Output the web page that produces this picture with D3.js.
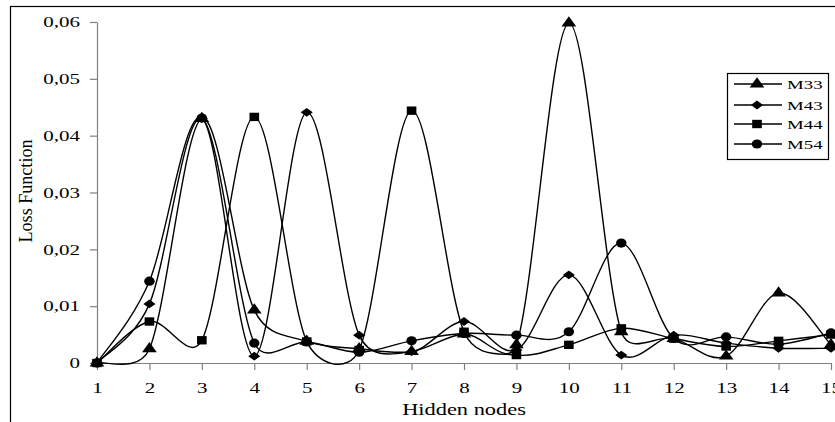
<!DOCTYPE html>
<html>
<head>
<meta charset="utf-8">
<script src="https://cdn.jsdelivr.net/npm/d3@7"></script>
<style>
  body { margin: 0; background: #fff; }
  text { font-family: "Liberation Serif", "Times New Roman", serif; fill: #000; }
</style>
</head>
<body>
<div id="chart"></div>
<script>
// data
var nodes = [1, 2, 3, 4, 5, 6, 7, 8, 9, 10, 11, 12, 13, 14, 15];
var m33 = [0, 0.0025, 0.043, 0.0093, 0.0038, 0.0025, 0.002, 0.0051, 0.0032, 0.0598, 0.0055, 0.0043, 0.0012, 0.0123, 0.0032];
var m43 = [0, 0.0104, 0.043, 0.0012, 0.0441, 0.0049, 0.002, 0.0073, 0.0023, 0.0155, 0.0014, 0.0049, 0.0035, 0.0026, 0.0026];
var m44 = [0, 0.0073, 0.004, 0.0433, 0.0038, 0.0023, 0.0444, 0.0055, 0.0014, 0.0032, 0.0061, 0.0043, 0.0029, 0.0039, 0.005];
var m54 = [0, 0.0144, 0.0431, 0.0035, 0.0037, 0.0019, 0.0039, 0.0052, 0.0049, 0.0055, 0.0211, 0.0043, 0.0046, 0.0033, 0.0053];
var seriesNames = ["M33", "M43", "M44", "M54"];
var yTicks = [0, 0.01, 0.02, 0.03, 0.04, 0.05, 0.06];

var series = [
	{ name: seriesNames[0], values: m33, symbol: d3.symbolTriangle, size: 60, sx: 1.25, sy: 1 },
	{ name: seriesNames[1], values: m43, symbol: d3.symbolDiamond2, size: 55, sx: 1.3, sy: 0.95 },
	{ name: seriesNames[2], values: m44, symbol: d3.symbolSquare, size: 70, sx: 1.15, sy: 1 },
	{ name: seriesNames[3], values: m54, symbol: d3.symbolCircle, size: 65, sx: 1.15, sy: 1 }
];

var width = 835, height = 422;
var stretch = 1.4; // text in the picture is widened horizontally

// Excel-like smoothed line: bezier with 1/6 tangents, each handle
// clamped to half of its segment so flat runs do not overshoot much
function excelCurve(context) {
	var pts;
	function handle(a, b, seg) {
		var vx = (b[0] - a[0]) / 6, vy = (b[1] - a[1]) / 6;
		var len = Math.hypot(vx, vy);
		if (len > seg / 2 && len > 0) {
			vx *= seg / 2 / len;
			vy *= seg / 2 / len;
		}
		return [vx, vy];
	}
	return {
		areaStart: function () {},
		areaEnd: function () {},
		lineStart: function () { pts = []; },
		point: function (x, y) { pts.push([+x, +y]); },
		lineEnd: function () {
			var n = pts.length;
			if (!n) return;
			context.moveTo(pts[0][0], pts[0][1]);
			for (var i = 0; i < n - 1; i++) {
				var p0 = pts[i - 1] || pts[i], p1 = pts[i], p2 = pts[i + 1], p3 = pts[i + 2] || pts[i + 1];
				var seg = Math.hypot(p2[0] - p1[0], p2[1] - p1[1]);
				var v1 = handle(p0, p2, seg), v2 = handle(p1, p3, seg);
				context.bezierCurveTo(p1[0] + v1[0], p1[1] + v1[1], p2[0] - v2[0], p2[1] - v2[1], p2[0], p2[1]);
			}
		}
	};
}

var svg = d3.select("#chart").append("svg")
	.attr("width", width)
	.attr("height", height);

// outer frame (runs past the right and bottom edges)
svg.append("rect")
	.attr("x", 10.5).attr("y", 6.5)
	.attr("width", 900).attr("height", 500)
	.attr("fill", "none").attr("stroke", "#000").attr("stroke-width", 1.2);

var x = d3.scaleLinear().domain([1, 15]).range([97, 831]);
var y = d3.scaleLinear().domain([0, 0.06]).range([363, 22]);

function fmt(d) {
	return d === 0 ? "0" : d3.format(".2f")(d).replace(".", ",");
}

// y axis
var gy = svg.append("g")
	.attr("transform", "translate(" + x(1) + ",0)")
	.call(d3.axisLeft(y).tickValues(yTicks).tickFormat(fmt).tickSize(7).tickSizeOuter(0));
gy.select(".domain").attr("stroke", "#808080").attr("stroke-width", 1.2);
gy.selectAll(".tick line").attr("stroke", "#808080").attr("stroke-width", 1.2);
gy.selectAll(".tick text")
	.attr("x", -17 / stretch)
	.attr("transform", "scale(" + stretch + ",1)")
	.style("font-size", "15px")
	.style("font-family", "'Liberation Serif', 'Times New Roman', serif");

// x axis
var gx = svg.append("g")
	.attr("transform", "translate(0," + y(0) + ")")
	.call(d3.axisBottom(x).tickValues(nodes).tickFormat(d3.format("d")).tickSize(7).tickSizeOuter(0));
gx.select(".domain").attr("stroke", "#808080").attr("stroke-width", 1.2);
gx.selectAll(".tick line").attr("stroke", "#808080").attr("stroke-width", 1.2);
gx.selectAll(".tick text")
	.attr("x", 0).attr("y", 30).attr("dy", 0)
	.attr("transform", "scale(" + stretch + ",1)")
	.style("font-size", "15px")
	.style("font-family", "'Liberation Serif', 'Times New Roman', serif");

// axis titles
svg.append("text")
	.attr("transform", "translate(464,415) scale(" + stretch + ",1)")
	.attr("text-anchor", "middle")
	.style("font-size", "16px")
	.text("Hidden nodes");

svg.append("text")
	.attr("transform", "translate(32,191) scale(" + stretch + ",1) rotate(-90)")
	.attr("text-anchor", "middle")
	.attr("textLength", 103)
	.attr("lengthAdjust", "spacingAndGlyphs")
	.style("font-size", "13px")
	.text("Loss Function");

var line = d3.line()
	.x(function (d, i) { return x(nodes[i]); })
	.y(function (d) { return y(d); })
	.curve(excelCurve);

var plot = svg.append("g");
series.forEach(function (s) {
	plot.append("path")
		.datum(s.values)
		.attr("d", line)
		.attr("fill", "none")
		.attr("stroke", "#000")
		.attr("stroke-width", 1.4);
});

series.forEach(function (s) {
	plot.selectAll(null)
		.data(s.values)
		.enter()
		.append("path")
		.attr("d", d3.symbol().type(s.symbol).size(s.size))
		.attr("transform", function (d, i) {
			return "translate(" + x(nodes[i]) + "," + y(d) + ") scale(" + s.sx + "," + s.sy + ")";
		})
		.attr("fill", "#000");
});

// legend
var legend = svg.append("g").attr("transform", "translate(727,73)");
legend.append("rect")
	.attr("x", 0.5).attr("y", 0.5)
	.attr("width", 101).attr("height", 86)
	.attr("fill", "#fff").attr("stroke", "#000").attr("stroke-width", 1.2);

var rowY = [11, 32, 51, 71];
series.forEach(function (s, i) {
	var g = legend.append("g").attr("transform", "translate(0," + rowY[i] + ")");
	g.append("line")
		.attr("x1", 7).attr("x2", 55)
		.attr("stroke", "#000").attr("stroke-width", 1.4);
	g.append("path")
		.attr("d", d3.symbol().type(s.symbol).size(s.size))
		.attr("transform", "translate(30,0) scale(" + s.sx + "," + s.sy + ")")
		.attr("fill", "#000");
	g.append("text")
		.attr("transform", "translate(60,4.5) scale(1.45,1)")
		.style("font-size", "13px")
		.text(s.name);
});
</script>
</body>
</html>
